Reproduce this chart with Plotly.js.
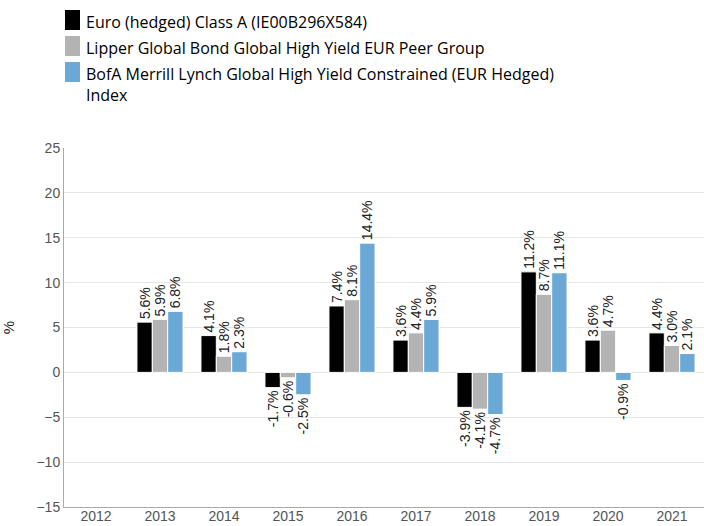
<!DOCTYPE html>
<html><head><meta charset="utf-8">
<script src="https://cdn.plot.ly/plotly-3.0.1.min.js"></script>
<style>body{margin:0;padding:0;background:#fff}#chart{width:704px;height:526px}</style>
</head><body><div id="chart"></div>
<script>
const years = ['2012','2013','2014','2015','2016','2017','2018','2019','2020','2021'];
const seriesNames = ['Euro (hedged) Class A (IE00B296X584)','Lipper Global Bond Global High Yield EUR Peer Group','BofA Merrill Lynch Global High Yield Constrained (EUR Hedged)<br>Index'];
const fundValues = [null, 5.6, 4.1, -1.7, 7.4, 3.6, -3.9, 11.2, 3.6, 4.4];
const peerValues = [null, 5.9, 1.8, -0.6, 8.1, 4.4, -4.1, 8.7, 4.7, 3.0];
const indexValues = [null, 6.8, 2.3, -2.5, 14.4, 5.9, -4.7, 11.1, -0.9, 2.1];
const colors = ['#000000','#b3b3b3','#6ba8d6'];
const yTicks = [-15,-10,-5,0,5,10,15,20,25];

const allSeries = [fundValues, peerValues, indexValues];
const traces = allSeries.map((vals, i) => ({
  type: 'bar', x: years, y: vals, name: seriesNames[i],
  marker: {color: colors[i], line: {color: '#ffffff', width: 1}},
  text: vals.map(v => v === null ? '' : v.toFixed(1) + '%'),
  textposition: 'outside', textangle: -90, constraintext: 'none', cliponaxis: false,
  textfont: {family: 'Liberation Sans, Arial, sans-serif', size: 14, color: '#222'},
  showlegend: false, hoverinfo: 'skip'
}));

const L = 64, T = 148, W = 640, H = 359;
function px(x){return (x - L) / W;}
function py(y){return (T + H - y) / H;}
const legendRows = [20, 46, 72];
const shapes = [], annotations = [];
seriesNames.forEach((n, i) => {
  shapes.push({type: 'rect', xref: 'paper', yref: 'paper', x0: px(65), x1: px(80),
    y0: py(legendRows[i] + 10), y1: py(legendRows[i] - 10), fillcolor: colors[i], line: {width: 0}});
  annotations.push({xref: 'paper', yref: 'paper', x: px(84), y: py(legendRows[i] - 11),
    xanchor: 'left', yanchor: 'top', align: 'left', showarrow: false, text: n,
    font: {family: 'Open Sans, sans-serif', size: 16, color: '#000'}});
});

const layout = {
  width: 704, height: 526,
  margin: {l: L, r: 704 - L - W, t: T, b: 526 - T - H},
  paper_bgcolor: '#fff', plot_bgcolor: '#fff',
  barmode: 'group', bargap: 0.28, bargroupgap: 0,
  xaxis: {type: 'category', showline: true, linecolor: '#aaaaaa', linewidth: 1, ticks: '', showgrid: false,
    ticklabelstandoff: -4,
    tickfont: {family: 'Liberation Sans, Arial, sans-serif', size: 14, color: '#555'}, fixedrange: true},
  yaxis: {range: [-15, 25], tickvals: yTicks, showline: true, linecolor: '#aaaaaa', linewidth: 1,
    gridcolor: '#e6e6e6', zeroline: true, zerolinecolor: '#e6e6e6', zerolinewidth: 1, ticks: '',
    tickfont: {family: 'Liberation Sans, Arial, sans-serif', size: 14, color: '#555'},
    title: {text: '%', font: {family: 'Liberation Sans, Arial, sans-serif', size: 15, color: '#222'}, standoff: 22},
    fixedrange: true},
  shapes: shapes, annotations: annotations,
  showlegend: false
};
Plotly.newPlot('chart', traces, layout, {displayModeBar: false, staticPlot: true});
</script></body></html>
